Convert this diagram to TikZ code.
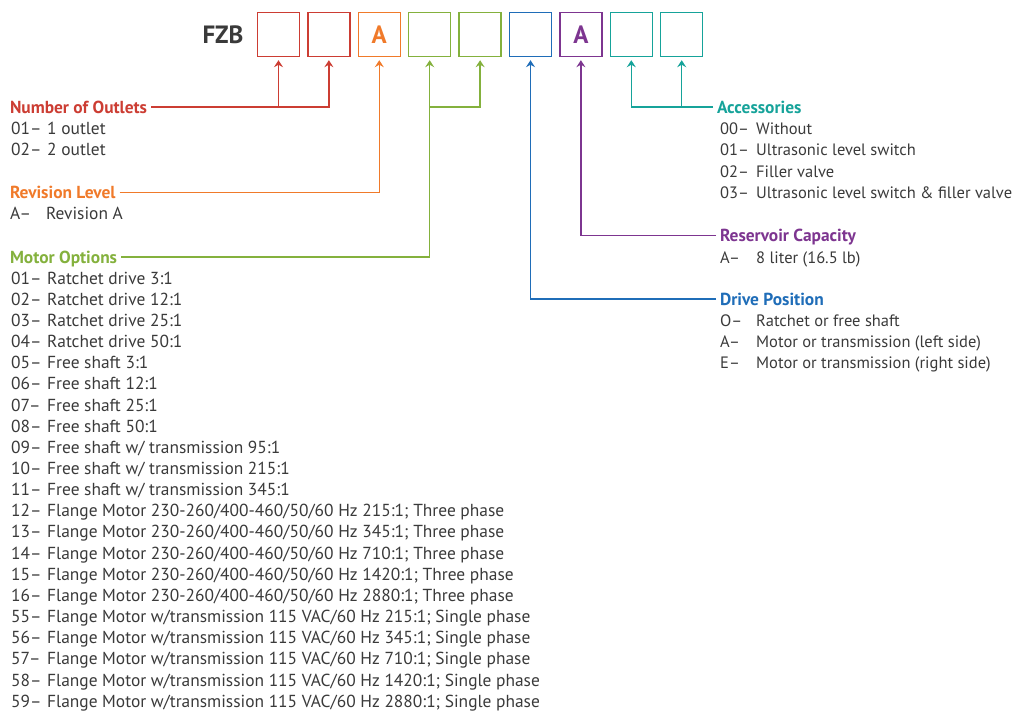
\documentclass[tikz,border=0pt]{standalone}
\usepackage{fontspec}
\setmainfont{PT Sans}
\usetikzlibrary{arrows.meta}
\definecolor{outletred}{HTML}{CC3D33}
\definecolor{revorange}{HTML}{F07A2A}
\definecolor{motorgreen}{HTML}{84B13D}
\definecolor{driveblue}{HTML}{1F6DB8}
\definecolor{respurple}{HTML}{7D3590}
\definecolor{accteal}{HTML}{16A39A}
\definecolor{txtgray}{HTML}{3A3A3A}
\newcommand\optline[2]{\makebox[36pt][l]{#1}#2}
\begin{document}
\begin{tikzpicture}[x=1pt,y=-1pt]
	\tikzstyle{slot}=[draw,line width=1.4pt,minimum width=42pt,minimum height=44pt,inner sep=0pt]
	\tikzstyle{big}=[inner sep=0pt,font=\fontsize{25}{28}\selectfont\bfseries]
	\tikzstyle{head}=[anchor=west,inner sep=0pt,outer sep=4pt,text height=12pt,text depth=0pt,font=\fontsize{17.4}{20}\selectfont\bfseries]
	\tikzstyle{item}=[anchor=west,inner sep=0pt,text height=12pt,text depth=0pt,text=txtgray,font=\fontsize{17.4}{20}\selectfont]
	\tikzstyle{ritem}=[item,font=\fontsize{16.5}{20}\selectfont]
	\tikzstyle{lead}=[line width=1.4pt,-{Stealth[length=7pt,width=9pt,inset=2.5pt]},shorten >=3pt]
	\useasboundingbox (0,0) rectangle (1018,713);
	% code boxes
	\node[big,text=txtgray] (fzb) at (223,34.5) {FZB};
	\foreach \c [count=\i] in {outletred,outletred,revorange,motorgreen,motorgreen,driveblue,respurple,accteal,accteal}
		\node[slot,draw=\c] (b\i) at ({278.5+(\i-1)*50.4},34.5) {};
	\node[big,text=revorange] at (b3) {A};
	\node[big,text=respurple] at (b7) {A};
	% left column
	\node[head,text=outletred] (outlets) at (6,107) {Number of Outlets};
	\node[item] (o1) at (11,128.3) {\optline{01–}{1 outlet}};
	\node[item] (o2) at (11,149.7) {\optline{02–}{2 outlet}};
	\node[head,text=revorange] (revision) at (6,192.3) {Revision Level};
	\node[item] (r1) at (10,213.7) {\optline{A–}{Revision A}};
	\node[head,text=motorgreen] (motor) at (6,257) {Motor Options};
	\foreach \code/\txt [count=\k] in {01/{Ratchet drive 3:1},02/{Ratchet drive 12:1},03/{Ratchet drive 25:1},04/{Ratchet drive 50:1},
		05/{Free shaft 3:1},06/{Free shaft 12:1},07/{Free shaft 25:1},08/{Free shaft 50:1},
		09/{Free shaft w/ transmission 95:1},10/{Free shaft w/ transmission 215:1},11/{Free shaft w/ transmission 345:1},
		12/{Flange Motor 230-260/400-460/50/60 Hz 215:1; Three phase},13/{Flange Motor 230-260/400-460/50/60 Hz 345:1; Three phase},
		14/{Flange Motor 230-260/400-460/50/60 Hz 710:1; Three phase},15/{Flange Motor 230-260/400-460/50/60 Hz 1420:1; Three phase},
		16/{Flange Motor 230-260/400-460/50/60 Hz 2880:1; Three phase},55/{Flange Motor w/transmission 115 VAC/60 Hz 215:1; Single phase},
		56/{Flange Motor w/transmission 115 VAC/60 Hz 345:1; Single phase},57/{Flange Motor w/transmission 115 VAC/60 Hz 710:1; Single phase},
		58/{Flange Motor w/transmission 115 VAC/60 Hz 1420:1; Single phase},59/{Flange Motor w/transmission 115 VAC/60 Hz 2880:1; Single phase}}
		\node[item] (m\k) at (11,{257+\k*21.15}) {\optline{\code–}{\txt}};
	% right column
	\node[head,text=accteal] (acc) at (713,107) {Accessories};
	\foreach \code/\txt [count=\k] in {00/Without,01/{Ultrasonic level switch},02/{Filler valve},03/{Ultrasonic level switch \& filler valve}}
		\node[ritem] (a\k) at (720,{107+\k*21.4}) {\optline{\code–}{\txt}};
	\node[head,text=respurple] (res) at (716,235.5) {Reservoir Capacity};
	\node[ritem] (c1) at (720,257) {\optline{A–}{8 liter (16.5 lb)}};
	\node[head,text=driveblue] (drive) at (716,299) {Drive Position};
	\foreach \code/\txt [count=\k] in {O/{Ratchet or free shaft},A/{Motor or transmission (left side)},E/{Motor or transmission (right side)}}
		\node[ritem] (d\k) at (720,{299+\k*21.3}) {\optline{\code–}{\txt}};
	% leads
	\draw[lead,draw=outletred] (outlets.east) -| (b2);
	\draw[lead,draw=outletred] (b1 |- outlets.east) -- (b1);
	\draw[lead,draw=revorange] (revision.east) -| (b3);
	\draw[lead,draw=motorgreen] (motor.east) -| (b4);
	\draw[lead,draw=motorgreen] (b4 |- outlets.east) -| (b5);
	\draw[lead,draw=driveblue] (drive.west) -| (b6);
	\draw[lead,draw=respurple] (res.west) -| (b7);
	\draw[lead,draw=accteal] (acc.west) -| (b8);
	\draw[lead,draw=accteal] (b9 |- acc.west) -- (b9);
\end{tikzpicture}
\end{document}
